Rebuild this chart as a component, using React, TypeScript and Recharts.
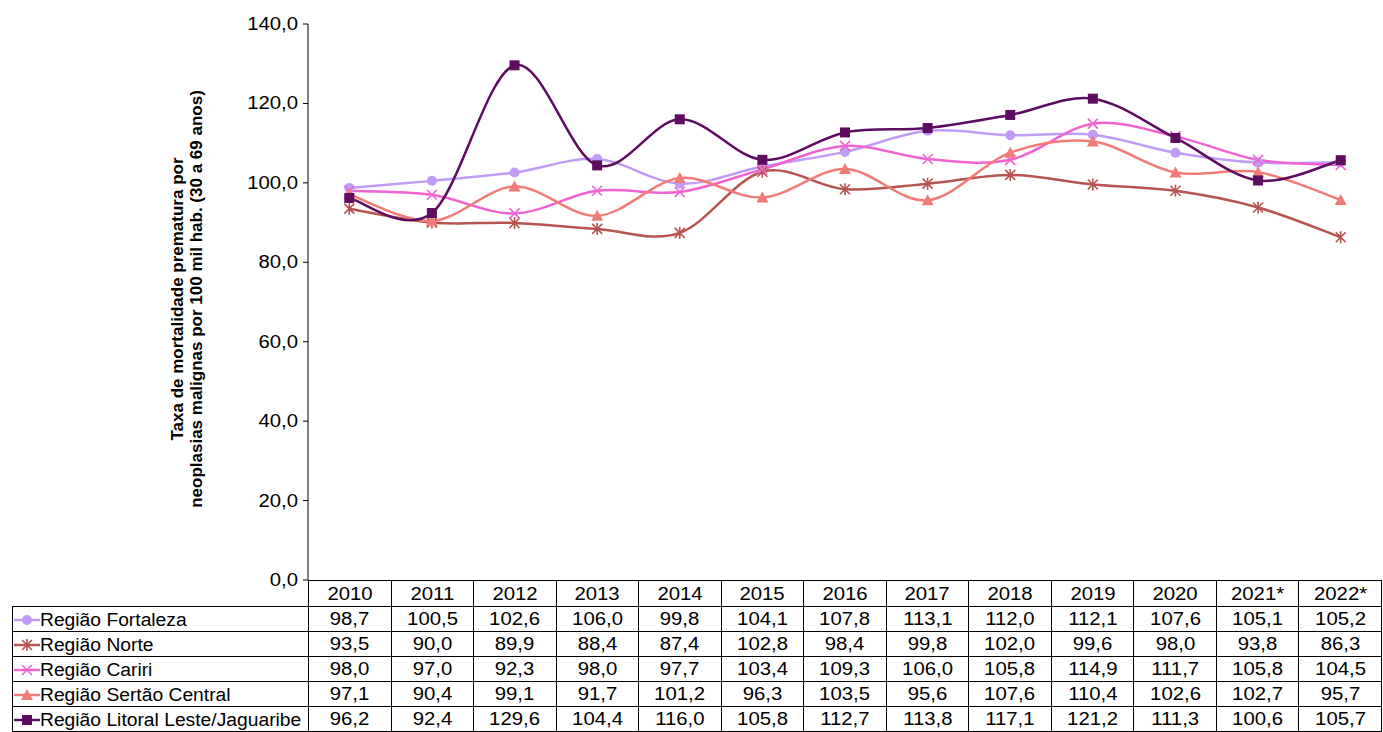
import { LineChart, Line, XAxis, YAxis } from 'recharts';

const years = ['2010', '2011', '2012', '2013', '2014', '2015', '2016', '2017', '2018', '2019', '2020', '2021*', '2022*'];
const fortaleza = [98.7, 100.5, 102.6, 106.0, 99.8, 104.1, 107.8, 113.1, 112.0, 112.1, 107.6, 105.1, 105.2];
const norte = [93.5, 90.0, 89.9, 88.4, 87.4, 102.8, 98.4, 99.8, 102.0, 99.6, 98.0, 93.8, 86.3];
const cariri = [98.0, 97.0, 92.3, 98.0, 97.7, 103.4, 109.3, 106.0, 105.8, 114.9, 111.7, 105.8, 104.5];
const sertao = [97.1, 90.4, 99.1, 91.7, 101.2, 96.3, 103.5, 95.6, 107.6, 110.4, 102.6, 102.7, 95.7];
const litoral = [96.2, 92.4, 129.6, 104.4, 116.0, 105.8, 112.7, 113.8, 117.1, 121.2, 111.3, 100.6, 105.7];
const yTicks = [0, 20, 40, 60, 80, 100, 120, 140];

const series = [
  { key: 'fortaleza', name: 'Região Fortaleza', color: '#C09CF7', shape: 'circle', values: fortaleza },
  { key: 'norte', name: 'Região Norte', color: '#B65450', shape: 'star', values: norte },
  { key: 'cariri', name: 'Região Cariri', color: '#F064D2', shape: 'x', values: cariri },
  { key: 'sertao', name: 'Região Sertão Central', color: '#F27B78', shape: 'triangle', values: sertao },
  { key: 'litoral', name: 'Região Litoral Leste/Jaguaribe', color: '#5E0C60', shape: 'square', values: litoral },
];

const data = years.map((year, i) => {
  const row: any = { year };
  series.forEach((s) => (row[s.key] = s.values[i]));
  return row;
});

const fmt = (v: number) => v.toFixed(1).replace('.', ',');

// the original text is a bit wide (stretched picture)
const STRETCH = 1.13;
const LABEL_STRETCH = 1.07;

// excel-like smoothed line (catmull-rom through the points)
function excelCurve(context: any) {
  let pts: number[][] = [];
  return {
    areaStart() {},
    areaEnd() {},
    lineStart() {
      pts = [];
    },
    point(x: number, y: number) {
      pts.push([+x, +y]);
    },
    lineEnd() {
      if (!pts.length) return;
      context.moveTo(pts[0][0], pts[0][1]);
      for (let i = 0; i < pts.length - 1; i++) {
        const p0 = pts[i - 1] || pts[i];
        const p1 = pts[i];
        const p2 = pts[i + 1];
        const p3 = pts[i + 2] || p2;
        context.bezierCurveTo(
          p1[0] + (p2[0] - p0[0]) / 6,
          p1[1] + (p2[1] - p0[1]) / 6,
          p2[0] - (p3[0] - p1[0]) / 6,
          p2[1] - (p3[1] - p1[1]) / 6,
          p2[0],
          p2[1]
        );
      }
    },
  };
}

function Marker({ shape, x, y, color }: { shape: string; x: number; y: number; color: string }) {
  if (shape === 'circle') return <circle cx={x} cy={y} r={5} fill={color} />;
  if (shape === 'square') return <rect x={x - 5} y={y - 5} width={10} height={10} fill={color} />;
  if (shape === 'triangle')
    return <polygon points={`${x},${y - 6} ${x + 6},${y + 5} ${x - 6},${y + 5}`} fill={color} />;
  if (shape === 'x')
    return (
      <path d={`M${x - 5},${y - 5}L${x + 5},${y + 5}M${x + 5},${y - 5}L${x - 5},${y + 5}`} stroke={color} strokeWidth={1.6} />
    );
  return (
    <path
      d={`M${x - 5},${y - 5}L${x + 5},${y + 5}M${x + 5},${y - 5}L${x - 5},${y + 5}M${x},${y - 6}L${x},${y + 6}`}
      stroke={color}
      strokeWidth={1.6}
    />
  );
}

function YTick({ x, y, payload }: any) {
  return (
    <g transform={`translate(${x},${y})`}>
      <text x={0} y={0} dy={6} textAnchor="end" transform={`scale(${STRETCH},1)`} fontSize={18} fill="#000" fontFamily={FONT}>
        {fmt(payload.value)}
      </text>
    </g>
  );
}

function YLabel({ viewBox }: any) {
  const cy = viewBox.y + viewBox.height / 2;
  return (
    <text transform={`translate(187,${cy - 3}) rotate(-90)`} textAnchor="middle" fontSize={17} fontWeight="bold" fill="#000" fontFamily={FONT}>
      <tspan x={0} dy={-4}>Taxa de mortalidade prematura por</tspan>
      <tspan x={0} dy={19}>neoplasias malignas por 100 mil hab. (30 a 69 anos)</tspan>
    </text>
  );
}

const FONT = '"Liberation Sans", Arial, sans-serif';
const cell: any = { border: '1px solid #000', textAlign: 'center', padding: 0, height: 24, fontSize: 18, lineHeight: '20px' };
const wide: any = { display: 'inline-block', transform: `scaleX(${STRETCH})` };

export default function App() {
  return (
    <div style={{ position: 'fixed', left: 0, top: 0, width: 1383, height: 732, background: '#fff', fontFamily: FONT }}>
      <LineChart width={1383} height={732} data={data} margin={{ top: 24, right: 1, left: 0, bottom: 152 }}>
        <XAxis dataKey="year" hide padding={{ left: 41.3, right: 41.3 }} />
        <YAxis
          width={308}
          domain={[0, 140]}
          ticks={yTicks}
          axisLine={{ stroke: '#000' }}
          tickLine={{ stroke: '#000' }}
          tickSize={5}
          tickMargin={5}
          tick={<YTick />}
          label={<YLabel />}
        />
        {series.map((s) => (
          <Line
            key={s.key}
            dataKey={s.key}
            type={excelCurve as any}
            stroke={s.color}
            strokeWidth={2.5}
            isAnimationActive={false}
            dot={(p: any) => <Marker key={`${s.key}-${p.index}`} shape={s.shape} x={p.cx} y={p.cy} color={s.color} />}
            activeDot={false}
          />
        ))}
      </LineChart>
      <table
        style={{
          position: 'absolute',
          left: 12,
          top: 580,
          width: 1370,
          borderCollapse: 'collapse',
          tableLayout: 'fixed',
          fontFamily: FONT,
          color: '#000',
        }}
      >
        <colgroup>
          <col style={{ width: 296 }} />
          {years.map((y) => (
            <col key={y} />
          ))}
        </colgroup>
        <tbody>
          <tr>
            <td style={{ ...cell, border: 'none', borderBottom: '1px solid #000', height: 25 }} />
            {years.map((y) => (
              <td key={y} style={{ ...cell, height: 25 }}>
                <span style={wide}>{y}</span>
              </td>
            ))}
          </tr>
          {series.map((s) => (
            <tr key={s.key}>
              <td style={{ ...cell, textAlign: 'left', whiteSpace: 'nowrap' }}>
                <svg width={26} height={14} style={{ verticalAlign: 'middle', marginLeft: 1 }}>
                  <line x1={0} y1={7} x2={26} y2={7} stroke={s.color} strokeWidth={2.5} />
                  <Marker shape={s.shape} x={13} y={7} color={s.color} />
                </svg>
                <span
                  style={{
                    display: 'inline-block',
                    transform: `scaleX(${LABEL_STRETCH})`,
                    transformOrigin: 'left center',
                    verticalAlign: 'middle',
                  }}
                >
                  {s.name}
                </span>
              </td>
              {s.values.map((v, i) => (
                <td key={i} style={cell}>
                  <span style={wide}>{fmt(v)}</span>
                </td>
              ))}
            </tr>
          ))}
        </tbody>
      </table>
    </div>
  );
}
